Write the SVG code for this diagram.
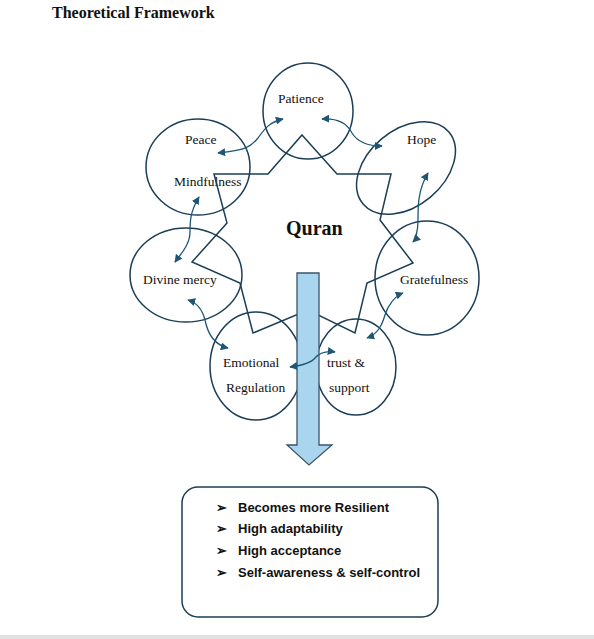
<svg xmlns="http://www.w3.org/2000/svg" width="594" height="639" viewBox="0 0 594 639">
<style>
.node{fill:none;stroke:#1b3e57;stroke-width:1.5}
.lbl{font-family:"Liberation Serif","Times New Roman",serif;font-size:13.5px;fill:#111}
.conn{fill:none;stroke:#1f5675;stroke-width:1.3;marker-start:url(#ah);marker-end:url(#ah)}
.star{fill:none;stroke:#1b3e57;stroke-width:1.5;stroke-linejoin:miter}
.bul{font-family:"Liberation Sans",Arial,sans-serif;font-weight:bold;font-size:13px;fill:#111}
</style>
<defs>
<marker id="ah" viewBox="0 0 10 10" refX="9" refY="5" markerWidth="8" markerHeight="8" markerUnits="userSpaceOnUse" orient="auto-start-reverse">
<path d="M0,0 L10,5 L0,10 Z" fill="#1f5675"/>
</marker>
</defs>
<rect width="594" height="639" fill="#fff"/>
<rect x="0" y="635" width="594" height="4" fill="#e2e2e2"/>
<text x="52" y="18" font-family="Liberation Serif,'Times New Roman',serif" font-weight="bold" font-size="16" fill="#111">Theoretical Framework</text>

<g id="patience"><ellipse class="node" cx="308" cy="111" rx="45" ry="48"/><text class="lbl" x="278" y="103">Patience</text></g>
<g id="peace"><ellipse class="node" cx="198" cy="167" rx="52" ry="48"/><text class="lbl" x="185" y="144">Peace</text><text class="lbl" x="174" y="186">Mindfulness</text></g>
<g id="hope"><ellipse class="node" cx="406" cy="168" rx="56" ry="38" transform="rotate(-40 406 168)"/><text class="lbl" x="407" y="144">Hope</text></g>
<g id="divine"><ellipse class="node" cx="186" cy="275" rx="56" ry="47"/><text class="lbl" x="143" y="284">Divine mercy</text></g>
<g id="grateful"><ellipse class="node" cx="427" cy="278" rx="52" ry="57"/><text class="lbl" x="400" y="284">Gratefulness</text></g>
<g id="emotional"><ellipse class="node" cx="256" cy="366" rx="46" ry="54"/><text class="lbl" x="223" y="367">Emotional</text><text class="lbl" x="226" y="392">Regulation</text></g>
<g id="trust"><ellipse class="node" cx="356" cy="367" rx="40" ry="48"/><text class="lbl" x="327" y="367">trust &amp;</text><text class="lbl" x="329" y="392">support</text></g>

<g id="quran">
<polygon class="star" points="302,135 337,174 391,174 380,220 413,263 367,283 355,333 308,310 253,333 240,283 192,262 227,223 214,174 268,174"/>
<text x="286" y="235" font-family="Liberation Serif,'Times New Roman',serif" font-weight="bold" font-size="20" fill="#111">Quran</text>
</g>

<g id="bigarrow"><polygon points="297,273 319,273 319,445 332,445 309,465 287,445 297,445" fill="#a9d5ef" stroke="#3a5568" stroke-width="1.3"/></g>

<g id="connectors">
<path class="conn" d="M218,153 C245,150 250,148 258,138 C265,128 270,122 283,119"/>
<path class="conn" d="M322,119 C340,118 348,125 352,133 C358,143 368,146 382,146"/>
<path class="conn" d="M428,173 C418,190 418,205 418,220 C418,232 415,240 413,242"/>
<path class="conn" d="M199,197 C190,212 190,222 190,232 C190,245 180,255 175,262"/>
<path class="conn" d="M188,300 C198,303 203,312 205,320 C208,335 215,345 228,348"/>
<path class="conn" d="M290,367 C305,365 312,362 315,358 C320,352 328,351 335,352"/>
<path class="conn" d="M367,338 C378,334 382,325 385,315 C388,305 395,296 403,293"/>
</g>

<g id="outcomes">
<rect x="182" y="487" width="256" height="130" rx="16" fill="#fff" stroke="#1b3e57" stroke-width="1.5"/>
<text class="bul" x="216" y="512">➢</text><text class="bul" x="238" y="512">Becomes more Resilient</text>
<text class="bul" x="216" y="533">➢</text><text class="bul" x="238" y="533">High adaptability</text>
<text class="bul" x="216" y="555">➢</text><text class="bul" x="238" y="555">High acceptance</text>
<text class="bul" x="216" y="577">➢</text><text class="bul" x="238" y="577">Self-awareness &amp; self-control</text>
</g>
</svg>
